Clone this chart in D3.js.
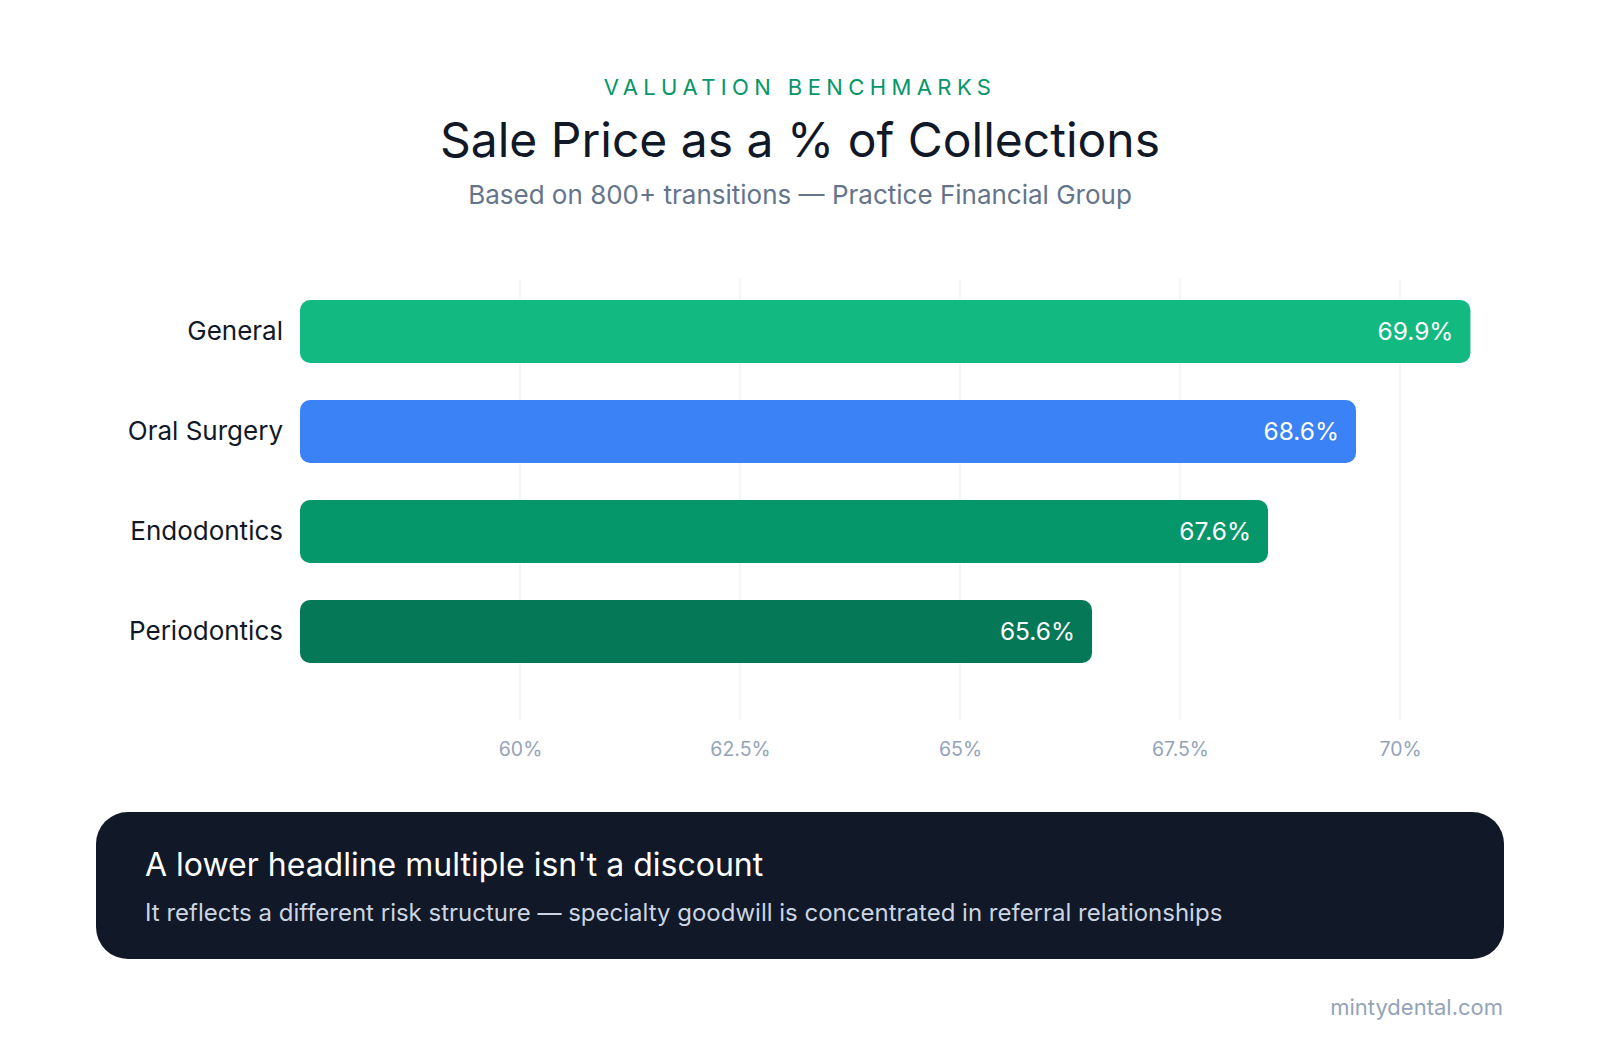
<!DOCTYPE html>
<html>
<head>
<meta charset="utf-8">
<script src="https://cdn.jsdelivr.net/npm/d3@7"></script>
<style>
  html, body { margin: 0; padding: 0; background: #ffffff; }
  svg { display: block; font-family: Inter, "Noto Sans", sans-serif; }
</style>
</head>
<body>
<svg id="chart"></svg>
<script>
// chart data
const categories = ["General", "Oral Surgery", "Endodontics", "Periodontics"];
const values = [69.9, 68.6, 67.6, 65.6];
const barColors = ["#12b981", "#3b82f6", "#059669", "#047857"];
const tickValues = [60, 62.5, 65, 67.5, 70];

const width = 1600;
const height = 1040;

const svg = d3.select("#chart")
  .attr("width", width)
  .attr("height", height);

// header
svg.append("text")
  .attr("x", 800).attr("y", 95)
  .attr("text-anchor", "middle")
  .attr("fill", "#059669")
  .attr("font-size", 22)
  .attr("font-weight", 400)
  .attr("letter-spacing", "5.4px")
  .text("VALUATION BENCHMARKS");

svg.append("text")
  .attr("x", 800).attr("y", 157)
  .attr("text-anchor", "middle")
  .attr("fill", "#111827")
  .attr("font-size", 48)
  .attr("font-weight", 400)
  .text("Sale Price as a % of Collections");

svg.append("text")
  .attr("x", 800).attr("y", 204)
  .attr("text-anchor", "middle")
  .attr("fill", "#64748b")
  .attr("font-size", 26)
  .text("Based on 800+ transitions \u2014 Practice Financial Group");

// scales
const x = d3.scaleLinear()
  .domain([57.5, 72])
  .range([300, 1576]);

// bars are drawn from a floor slightly below the axis start
const barFloor = 56.6;

const y = d3.scaleBand()
  .domain(categories)
  .range([281.5, 681.5])
  .paddingInner(0.37)
  .paddingOuter(0.185);

// grid
svg.append("g")
  .selectAll("line")
  .data(tickValues)
  .join("line")
  .attr("x1", d => x(d)).attr("x2", d => x(d))
  .attr("y1", 279).attr("y2", 720)
  .attr("stroke", "#f1f5f9")
  .attr("stroke-width", 1.5);

// x axis labels
const xAxis = svg.append("g")
  .attr("transform", "translate(0,720)")
  .call(d3.axisBottom(x).tickValues(tickValues).tickSize(0).tickPadding(22)
    .tickFormat(d => d + "%"));
xAxis.select(".domain").remove();
xAxis.selectAll("text")
  .attr("fill", "#94a3b8")
  .attr("font-size", 19.5)
  .attr("font-family", "Inter, sans-serif");

// category labels
const yAxis = svg.append("g")
  .attr("transform", "translate(300,0)")
  .call(d3.axisLeft(y).tickSize(0).tickPadding(17));
yAxis.select(".domain").remove();
yAxis.selectAll("text")
  .attr("fill", "#111827")
  .attr("font-size", 26)
  .attr("font-family", "Inter, sans-serif");

const rows = categories.map((c, i) => ({ name: c, value: values[i], color: barColors[i] }));

svg.append("g")
  .selectAll("rect")
  .data(rows)
  .join("rect")
  .attr("x", x.range()[0])
  .attr("y", d => y(d.name))
  .attr("width", d => x(d.value) - x(barFloor))
  .attr("height", y.bandwidth())
  .attr("rx", 10)
  .attr("fill", d => d.color);

svg.append("g")
  .selectAll("text")
  .data(rows)
  .join("text")
  .attr("x", d => x.range()[0] + x(d.value) - x(barFloor) - 17)
  .attr("y", d => y(d.name) + y.bandwidth() / 2)
  .attr("dy", "0.36em")
  .attr("text-anchor", "end")
  .attr("fill", "#ffffff")
  .attr("font-size", 24.5)
  .attr("font-weight", 400)
  .text(d => d.value.toFixed(1) + "%");

// callout
svg.append("rect")
  .attr("x", 96).attr("y", 812)
  .attr("width", 1408).attr("height", 147)
  .attr("rx", 32)
  .attr("fill", "#111827");

svg.append("text")
  .attr("x", 145).attr("y", 876)
  .attr("fill", "#ffffff")
  .attr("font-size", 32)
  .attr("font-weight", 400)
  .text("A lower headline multiple isn't a discount");

svg.append("text")
  .attr("x", 145).attr("y", 921)
  .attr("fill", "#cbd5e1")
  .attr("font-size", 24)
  .text("It reflects a different risk structure \u2014 specialty goodwill is concentrated in referral relationships");

svg.append("text")
  .attr("x", 1503).attr("y", 1015)
  .attr("text-anchor", "end")
  .attr("fill", "#94a3b8")
  .attr("font-size", 22)
  .text("mintydental.com");
</script>
</body>
</html>
